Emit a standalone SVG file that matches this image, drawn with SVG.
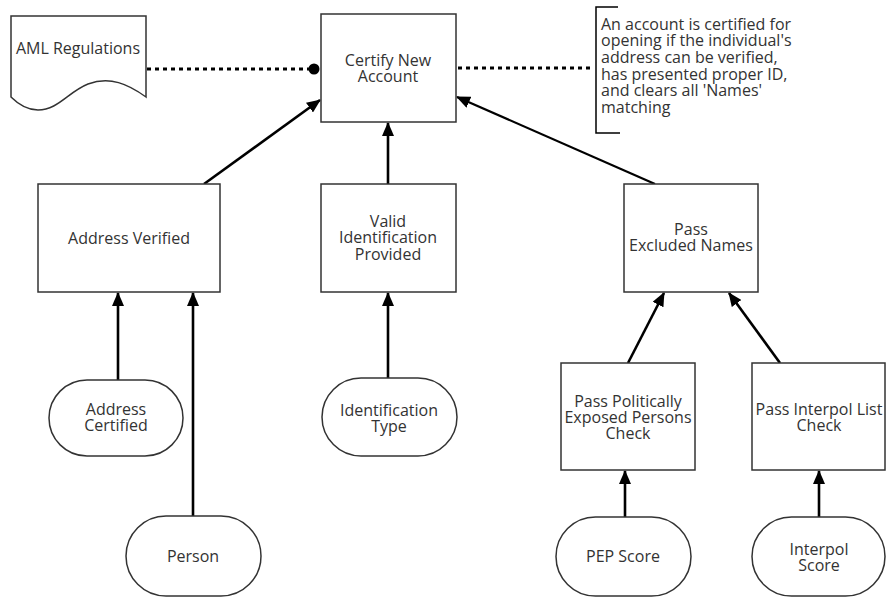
<svg xmlns="http://www.w3.org/2000/svg" width="886" height="597" viewBox="0 0 886 597">
<defs>
<marker id="arr" viewBox="0 0 14 12" refX="13" refY="6" markerWidth="14" markerHeight="12" markerUnits="userSpaceOnUse" orient="auto">
<path d="M0,0 L14,6 L0,12 Z" fill="#000"/>
</marker>
</defs>
<style>
.box{fill:#fff;stroke:#333;stroke-width:1.5}
.t{font-family:"Open Sans","Noto Sans",sans-serif;font-size:16px;fill:#333;text-anchor:middle}
.tl{font-family:"Open Sans","Noto Sans",sans-serif;font-size:16px;fill:#333}
.c{stroke:#000;stroke-width:2.6;fill:none;marker-end:url(#arr)}
.d{stroke:#000;stroke-width:3;fill:none;stroke-dasharray:4,4}
</style>
<rect width="886" height="597" fill="#fff"/>
<g id="connectors">
<line class="d" x1="147" y1="69" x2="309" y2="69"/>
<circle cx="314" cy="69" r="5.5" fill="#000"/>
<line class="d" x1="458" y1="68" x2="594" y2="68"/>
<line class="c" x1="204" y1="184" x2="320" y2="100"/>
<line class="c" x1="388" y1="184" x2="388" y2="123"/>
<line class="c" x1="655" y1="184" x2="457" y2="97" style="stroke-width:2.2"/>
<line class="c" x1="118" y1="380" x2="118" y2="293"/>
<line class="c" x1="193" y1="516" x2="193" y2="293"/>
<line class="c" x1="388" y1="378" x2="388" y2="293"/>
<line class="c" x1="628" y1="363" x2="664" y2="293"/>
<line class="c" x1="780" y1="363" x2="729" y2="293"/>
<line class="c" x1="625" y1="517" x2="625" y2="471"/>
<line class="c" x1="819" y1="517" x2="819" y2="471"/>
</g>
<g id="aml">
<path class="box" d="M11,16 L146,16 L146,97 C128,84 110,76 88,84 C68,92 58,110 38,110 C26,110 16,102 11,97 Z"/>
<text class="t" x="78" y="54">AML Regulations</text>
</g>
<g id="certify">
<rect class="box" x="321" y="14" width="135" height="108"/>
<text class="t" x="388" y="66">Certify New</text>
<text class="t" x="388" y="82">Account</text>
</g>
<g id="annotation">
<path d="M618,7 L596,7 L596,133 L620,133" fill="none" stroke="#000" stroke-width="1.5"/>
<text class="tl" x="601" y="30">An account is certified for</text>
<text class="tl" x="601" y="46">opening if the individual's</text>
<text class="tl" x="601" y="63">address can be verified,</text>
<text class="tl" x="601" y="80">has presented proper ID,</text>
<text class="tl" x="601" y="96">and clears all 'Names'</text>
<text class="tl" x="601" y="113">matching</text>
</g>
<g id="address-verified">
<rect class="box" x="38" y="184" width="182" height="108"/>
<text class="t" x="129" y="244">Address Verified</text>
</g>
<g id="valid-id">
<rect class="box" x="321" y="184" width="135" height="108"/>
<text class="t" x="388" y="227">Valid</text>
<text class="t" x="388" y="243">Identification</text>
<text class="t" x="388" y="260">Provided</text>
</g>
<g id="pass-excluded">
<rect class="box" x="624" y="184" width="134" height="108"/>
<text class="t" x="691" y="235">Pass</text>
<text class="t" x="691" y="251">Excluded Names</text>
</g>
<g id="address-certified">
<rect class="box" x="49" y="380" width="134" height="76" rx="38" ry="38"/>
<text class="t" x="116" y="415">Address</text>
<text class="t" x="116" y="431">Certified</text>
</g>
<g id="person">
<rect class="box" x="126" y="516" width="135" height="80" rx="40" ry="40"/>
<text class="t" x="193" y="562">Person</text>
</g>
<g id="identification-type">
<rect class="box" x="322" y="378" width="135" height="78" rx="39" ry="39"/>
<text class="t" x="389" y="416">Identification</text>
<text class="t" x="389" y="432">Type</text>
</g>
<g id="pep-check">
<rect class="box" x="561" y="363" width="134" height="107"/>
<text class="t" x="628" y="407">Pass Politically</text>
<text class="t" x="628" y="423">Exposed Persons</text>
<text class="t" x="628" y="439">Check</text>
</g>
<g id="interpol-check">
<rect class="box" x="752" y="363" width="133" height="107"/>
<text class="t" x="819" y="415">Pass Interpol List</text>
<text class="t" x="819" y="431">Check</text>
</g>
<g id="pep-score">
<rect class="box" x="556" y="517" width="135" height="79" rx="39.5" ry="39.5"/>
<text class="t" x="623" y="562">PEP Score</text>
</g>
<g id="interpol-score">
<rect class="box" x="752" y="517" width="133" height="79" rx="39.5" ry="39.5"/>
<text class="t" x="819" y="555">Interpol</text>
<text class="t" x="819" y="571">Score</text>
</g>
</svg>
